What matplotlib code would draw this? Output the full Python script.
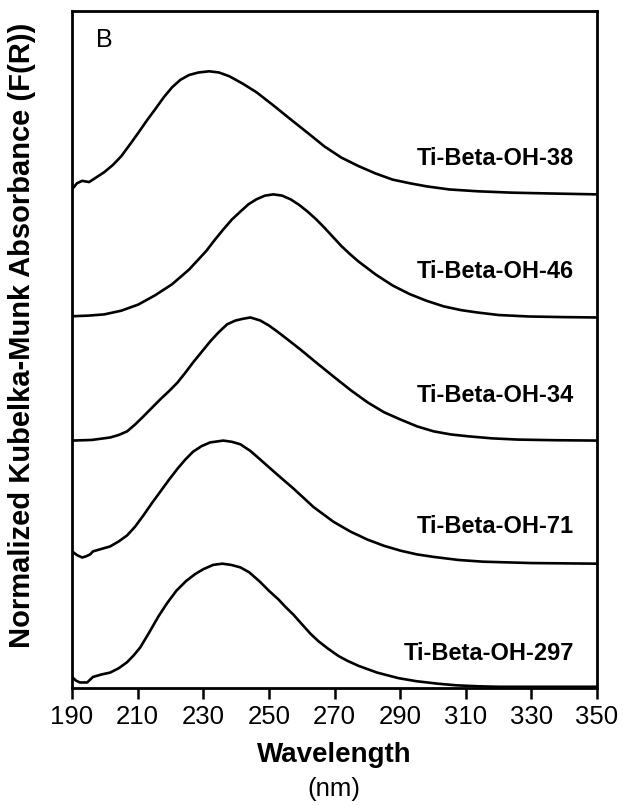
import numpy as np
import matplotlib
matplotlib.use("Agg")
import matplotlib.pyplot as plt

plt.rcParams["font.family"] = ["Liberation Sans", "DejaVu Sans"]

# Normalized F(R) (each curve peak = 1, flat tail = 0)
samples = ["Ti-Beta-OH-38", "Ti-Beta-OH-46", "Ti-Beta-OH-34", "Ti-Beta-OH-71", "Ti-Beta-OH-297"]

wl_38 = [190, 191.5, 193.1, 195.2, 197.5, 199.8, 202.5, 205.0, 207.5, 210.2, 212.8,
         215.3, 218.0, 220.5, 223.0, 225.7, 228.5, 231.8, 234.8, 237.9, 242.0,
         246.2, 251.5, 256.6, 261.8, 266.9, 272.0, 277.3, 282.5, 287.7, 293.0,
         298.1, 305.0, 313.7, 324.0, 334.4, 350]
fr_38 = [0.04, 0.09, 0.11, 0.10, 0.14, 0.18, 0.24, 0.31, 0.40, 0.50, 0.60,
         0.69, 0.79, 0.87, 0.93, 0.97, 0.99, 1.00, 0.99, 0.96, 0.90,
         0.83, 0.72, 0.61, 0.50, 0.39, 0.30, 0.23, 0.17, 0.12, 0.09,
         0.065, 0.04, 0.025, 0.014, 0.008, 0.0]

wl_46 = [190, 195.0, 199.8, 205.0, 210.2, 215.3, 220.5, 225.7, 230.9, 233.5, 236.1,
         238.7, 241.3, 243.8, 246.2, 248.8, 251.4, 254.0, 256.6, 259.2, 261.8,
         264.3, 266.9, 269.5, 272.1, 274.7, 277.3, 282.5, 287.7, 292.9, 298.1,
         303.3, 308.5, 313.7, 320.0, 329.2, 340.0, 350]
fr_46 = [0.01, 0.015, 0.025, 0.055, 0.105, 0.18, 0.27, 0.39, 0.54, 0.63, 0.715,
         0.795, 0.86, 0.92, 0.96, 0.99, 1.00, 0.99, 0.96, 0.915, 0.86,
         0.80, 0.73, 0.655, 0.58, 0.515, 0.455, 0.35, 0.26, 0.19, 0.135,
         0.09, 0.06, 0.04, 0.02, 0.008, 0.003, 0.0]

wl_34 = [190, 196.0, 201.6, 204.2, 206.8, 209.2, 211.7, 214.3, 216.9, 219.5, 222.1,
         224.5, 226.9, 229.5, 232.1, 234.7, 237.3, 239.8, 242.2, 244.4, 247.4,
         250.0, 252.6, 256.0, 259.6, 264.6, 269.7, 274.9, 280.1, 285.1, 290.2,
         295.2, 300.2, 305.4, 310.6, 318.0, 325.9, 337.0, 350]
fr_34 = [0.0, 0.005, 0.025, 0.045, 0.075, 0.13, 0.195, 0.265, 0.335, 0.40, 0.47,
         0.55, 0.635, 0.72, 0.805, 0.88, 0.945, 0.975, 0.99, 1.00, 0.975,
         0.935, 0.885, 0.815, 0.74, 0.63, 0.52, 0.41, 0.31, 0.23, 0.17,
         0.115, 0.075, 0.05, 0.035, 0.018, 0.008, 0.003, 0.0]

wl_71 = [190, 191.5, 193.1, 194.3, 195.5, 196.4, 199.0, 201.6, 204.2, 206.8, 209.2,
         211.7, 214.3, 216.9, 219.5, 222.1, 224.5, 226.9, 229.5, 232.1, 236.1,
         238.7, 241.3, 244.4, 247.4, 252.5, 257.5, 263.6, 269.7, 274.9, 280.1,
         285.1, 290.2, 295.2, 300.2, 307.8, 315.4, 330.0, 350]
fr_71 = [0.10, 0.07, 0.05, 0.06, 0.075, 0.10, 0.12, 0.14, 0.18, 0.23, 0.30,
         0.39, 0.49, 0.585, 0.68, 0.77, 0.845, 0.91, 0.955, 0.985, 1.00,
         0.99, 0.97, 0.915, 0.845, 0.725, 0.61, 0.46, 0.34, 0.26, 0.195,
         0.145, 0.105, 0.075, 0.055, 0.03, 0.016, 0.005, 0.0]

wl_297 = [190, 191.2, 192.4, 194.6, 196.4, 199.0, 201.6, 204.2, 206.8, 208.8, 210.8,
          213.5, 216.3, 219.0, 221.8, 224.8, 227.5, 230.0, 233.0, 235.8, 238.5,
          241.3, 244.0, 247.4, 250.0, 252.9, 255.0, 257.5, 260.0, 262.7, 265.1,
          268.0, 271.2, 274.0, 277.3, 283.0, 289.5, 295.0, 301.5, 307.0, 313.7,
          320.0, 350]
fr_297 = [0.08, 0.05, 0.035, 0.035, 0.08, 0.10, 0.115, 0.15, 0.20, 0.255, 0.32,
          0.44, 0.57, 0.68, 0.78, 0.86, 0.915, 0.955, 0.99, 1.00, 0.99,
          0.97, 0.93, 0.85, 0.78, 0.71, 0.65, 0.585, 0.51, 0.43, 0.37,
          0.31, 0.25, 0.21, 0.17, 0.115, 0.07, 0.045, 0.025, 0.012, 0.004,
          0.0, 0.0]

wavelengths = [wl_38, wl_46, wl_34, wl_71, wl_297]
spectra = [fr_38, fr_46, fr_34, fr_71, fr_297]
label_lift = [0.29, 0.37, 0.37, 0.30, 0.27]

fig = plt.figure(figsize=(6.23, 8.06), dpi=100)
ax = fig.add_axes([0.1156, 0.1464, 0.8427, 0.8400])

n = len(samples)
for i, (name, wl, fr) in enumerate(zip(samples, wavelengths, spectra)):
    offset = n - 1 - i
    ax.plot(wl, np.array(fr) + offset, color="black", lw=1.9,
            solid_joinstyle="round", solid_capstyle="butt")
    ax.text(343, offset + label_lift[i], name, ha="right", va="center",
            fontsize=17, fontweight="bold")

ax.set_xlim(190, 350)
ax.set_ylim(-0.01, 5.49)
ax.set_xticks(np.arange(190, 351, 20))
ax.set_yticks([])
ax.tick_params(axis="x", direction="out", length=8, width=1.8, labelsize=18.5, pad=4)
for sp in ax.spines.values():
    sp.set_linewidth(2.0)

ax.text(0.045, 0.975, "B", transform=ax.transAxes, fontsize=18, va="top", ha="left")

fig.text(334 / 623, 1 - 755 / 806, "Wavelength", ha="center", va="center",
         fontsize=20, fontweight="bold")
fig.text(334 / 623, 1 - 789 / 806, "(nm)", ha="center", va="center", fontsize=18.5)
fig.text(22 / 623, 1 - 335 / 806, "Normalized Kubelka-Munk Absorbance (F(R))",
         rotation=90, ha="center", va="center", fontsize=21, fontweight="bold")

fig.savefig("out.png", dpi=100)
